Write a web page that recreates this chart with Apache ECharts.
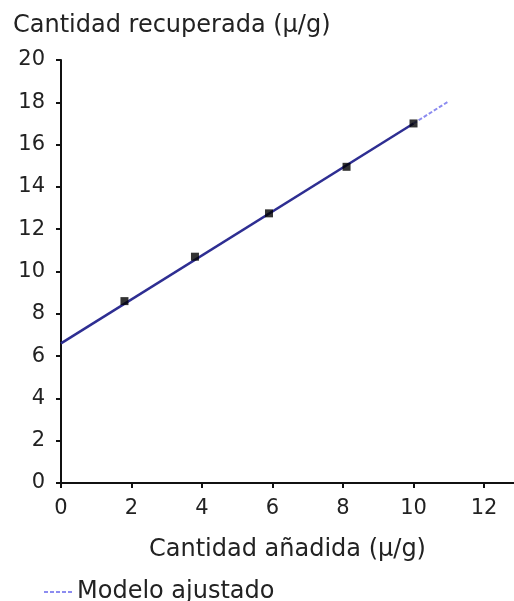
<!DOCTYPE html>
<html>
<head>
<meta charset="utf-8">
<script src="https://cdn.jsdelivr.net/npm/echarts@6/dist/echarts.min.js"></script>
<style>
html,body{margin:0;padding:0;background:#fff;}
#chart{width:514px;height:601px;}
</style>
</head>
<body>
<div id="chart"></div>
<script>
// datos
var añadida = [1.8, 3.8, 5.9, 8.1, 10];
var recuperada = [8.6, 10.7, 12.75, 14.95, 17.0];
// modelo ajustado: tramo continuo y prolongacion discontinua
var modeloX = [0, 10, 11];
var modeloY = [6.6, 17.0, 18.05];
var xTicks = [0, 2, 4, 6, 8, 10, 12];
var yTicks = [0, 2, 4, 6, 8, 10, 12, 14, 16, 18, 20];

var fuente = 'DejaVu Sans';

function pares(xs, ys){
    var out = [];
    for (var i = 0; i < xs.length; i++) out.push([xs[i], ys[i]]);
    return out;
}

var chart = echarts.init(document.getElementById('chart'));
chart.setOption({
    backgroundColor: '#fff',
    animation: false,
    title: {
        text: 'Cantidad recuperada (μ/g)',
        left: 8,
        top: 9,
        textStyle: {color: '#222', fontFamily: fuente, fontSize: 24, fontWeight: 'normal'}
    },
    grid: {left: 61, right: 0, top: 60, bottom: 118, containLabel: false},
    legend: {
        data: ['Modelo ajustado'],
        left: 38,
        top: 575,
        itemWidth: 28,
        itemHeight: 10,
        itemGap: 6,
        itemStyle: {opacity: 0},
        lineStyle: {width: 2},
        textStyle: {color: '#222', fontFamily: fuente, fontSize: 24}
    },
    xAxis: {
        type: 'value',
        min: 0,
        max: 12.85,
        name: 'Cantidad añadida (μ/g)',
        nameLocation: 'middle',
        nameGap: 55,
        nameTextStyle: {color: '#222', fontFamily: fuente, fontSize: 24},
        splitLine: {show: false},
        axisLine: {onZero: false, lineStyle: {color: '#111', width: 2}},
        axisTick: {show: true, length: 5, customValues: xTicks, lineStyle: {color: '#111', width: 2}},
        axisLabel: {customValues: xTicks, margin: 15, color: '#222', fontFamily: fuente, fontSize: 21}
    },
    yAxis: {
        type: 'value',
        min: 0,
        max: 20,
        interval: 2,
        splitLine: {show: false},
        axisLine: {show: true, onZero: false, lineStyle: {color: '#111', width: 2}},
        axisTick: {show: true, length: 5, lineStyle: {color: '#111', width: 2}},
        axisLabel: {margin: 16, color: '#222', fontFamily: fuente, fontSize: 21}
    },
    series: [
        {
            name: 'Modelo ajustado',
            type: 'line',
            data: pares(modeloX.slice(1), modeloY.slice(1)),
            symbol: 'none',
            lineStyle: {color: '#8c8cf0', width: 2, type: [4, 2]},
            itemStyle: {color: '#8c8cf0'},
            z: 2
        },
        {
            name: 'ajuste',
            type: 'line',
            data: pares(modeloX.slice(0, 2), modeloY.slice(0, 2)),
            symbol: 'none',
            lineStyle: {color: '#2e2e92', width: 2.5},
            z: 3
        },
        {
            name: 'datos',
            type: 'scatter',
            data: pares(añadida, recuperada),
            symbol: 'rect',
            symbolSize: 8,
            itemStyle: {color: '#000'},
            z: 4
        }
    ]
});
</script>
</body>
</html>
